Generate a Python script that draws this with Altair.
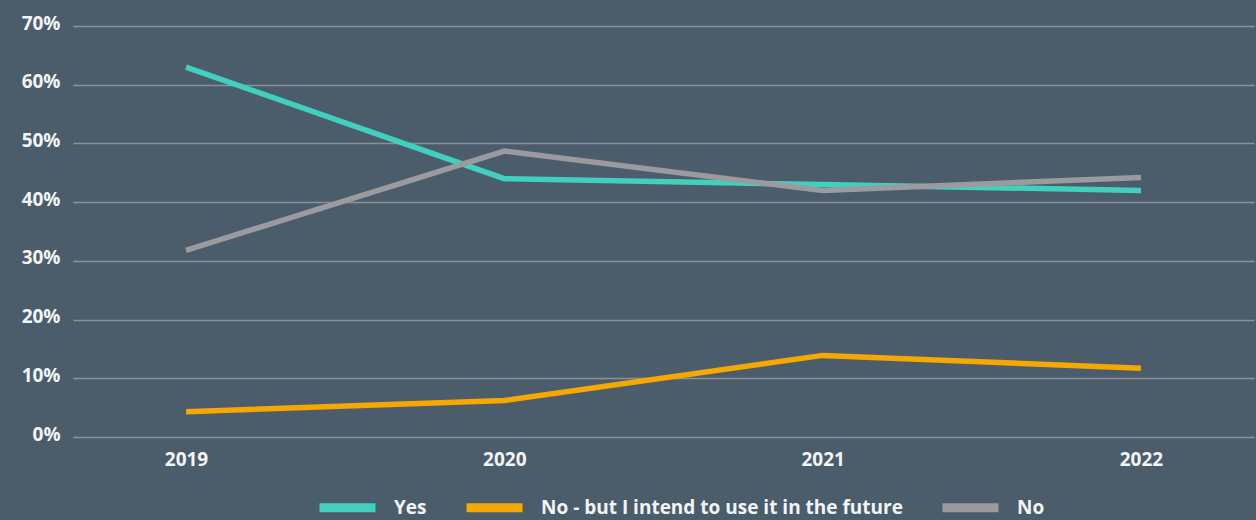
import altair as alt
import pandas as pd

years = ["2019", "2020", "2021", "2022"]
series_names = ["Yes", "No - but I intend to use it in the future", "No"]
yes_vals = [63.0, 44.0, 43.0, 42.0]
future_vals = [4.3, 6.2, 13.9, 11.7]
no_vals = [31.8, 48.7, 42.0, 44.2]
colors = ["#40d0bd", "#f5a800", "#9b9a9e"]

rows = []
for name, vals in zip(series_names, [yes_vals, future_vals, no_vals]):
    for y, v in zip(years, vals):
        rows.append({"year": y, "series": name, "value": v})
df = pd.DataFrame(rows)

FONT = "Open Sans"
LABEL_COLOR = "#f2f4f5"
BG = "#4b5d6b"

chart = alt.Chart(df).mark_line(strokeWidth=5.5, strokeCap="butt", strokeJoin="miter").encode(
    x=alt.X("year:N", sort=years, title=None,
            scale=alt.Scale(type="point", padding=0.355),
            axis=alt.Axis(labelAngle=0, domain=False, ticks=False, grid=False,
                          labelPadding=13, labelFont=FONT, labelFontSize=19,
                          labelFontWeight="bold", labelColor=LABEL_COLOR)),
    y=alt.Y("value:Q", title=None,
            scale=alt.Scale(domain=[0, 70], nice=False),
            axis=alt.Axis(values=[0, 10, 20, 30, 40, 50, 60, 70],
                          labelExpr="datum.value + '%'",
                          domain=False, ticks=False, grid=True,
                          gridColor="#8a9299", gridWidth=1.5,
                          labelPadding=13, labelOffset=-3,
                          labelFont=FONT, labelFontSize=19, labelFontWeight="bold",
                          labelColor=LABEL_COLOR)),
    color=alt.Color("series:N",
                    scale=alt.Scale(domain=series_names, range=colors),
                    legend=alt.Legend(title=None, orient="none", direction="horizontal",
                                      legendX=242, legendY=449,
                                      symbolType="stroke", symbolStrokeWidth=9,
                                      symbolSize=3136, labelOffset=14,
                                      columnPadding=21, labelLimit=0,
                                      labelFont=FONT, labelFontSize=19,
                                      labelFontWeight="bold", labelColor=LABEL_COLOR)),
    order=alt.Order("year:N"),
).properties(
    width=1181, height=411,
    background=BG,
    padding={"left": 73, "top": 26, "right": 2, "bottom": 83},
    autosize=alt.AutoSizeParams(type="none"),
).configure_view(stroke=None)

chart.save("out.html", embed_options={"renderer": "svg", "actions": False})
